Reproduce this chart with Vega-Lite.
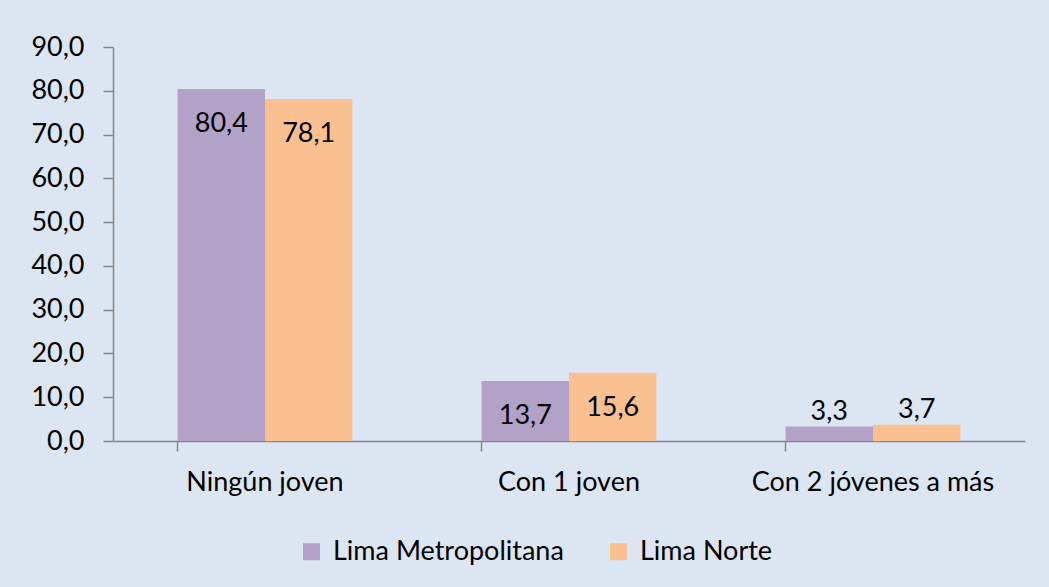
{
  "$schema": "https://vega.github.io/schema/vega-lite/v6.json",
  "width": 912,
  "height": 394,
  "padding": {"left": 30, "top": 33, "right": 24, "bottom": 28},
  "background": "#DCE6F2",
  "config": {
    "view": {"stroke": null},
    "font": "Lato",
    "locale": {"number": {"decimal": ",", "thousands": ".", "grouping": [3], "currency": ["", ""]}},
    "axis": {"labelFont": "Lato", "labelFontSize": 27, "labelColor": "#000000", "labelLimit": 0, "domainColor": "#868686", "tickColor": "#868686", "domainWidth": 1.5, "tickWidth": 1.5, "grid": false, "title": null},
    "legend": {"labelFont": "Lato", "labelFontSize": 27, "labelColor": "#000000", "labelLimit": 0}
  },
  "data": {
    "values": [
      {"categoria": "Ningún joven", "region": "Lima Metropolitana", "valor": 80.4},
      {"categoria": "Ningún joven", "region": "Lima Norte", "valor": 78.1},
      {"categoria": "Con 1 joven", "region": "Lima Metropolitana", "valor": 13.7},
      {"categoria": "Con 1 joven", "region": "Lima Norte", "valor": 15.6},
      {"categoria": "Con 2 jóvenes a más", "region": "Lima Metropolitana", "valor": 3.3},
      {"categoria": "Con 2 jóvenes a más", "region": "Lima Norte", "valor": 3.7}
    ]
  },
  "encoding": {
    "x": {
      "field": "categoria",
      "type": "nominal",
      "sort": ["Ningún joven", "Con 1 joven", "Con 2 jóvenes a más"],
      "scale": {"paddingInner": 0.425, "paddingOuter": 0.2125},
      "axis": {"labelAngle": 0, "tickSize": 10, "bandPosition": 0, "labelPadding": 18}
    },
    "xOffset": {"field": "region", "type": "nominal", "sort": ["Lima Metropolitana", "Lima Norte"]},
    "y": {
      "field": "valor",
      "type": "quantitative",
      "scale": {"domain": [0, 90], "nice": false},
      "axis": {"values": [0, 10, 20, 30, 40, 50, 60, 70, 80, 90], "format": ".1f", "tickSize": 10, "labelPadding": 19}
    }
  },
  "layer": [
    {
      "mark": {"type": "bar"},
      "encoding": {
        "color": {
          "field": "region",
          "type": "nominal",
          "scale": {"domain": ["Lima Metropolitana", "Lima Norte"], "range": ["#B3A2C7", "#FAC090"]},
          "legend": {
            "title": null,
            "orient": "none",
            "direction": "horizontal",
            "legendX": 185,
            "legendY": 491,
            "symbolType": "square",
            "symbolSize": 289,
            "symbolStrokeWidth": 0,
            "labelOffset": 8,
            "columnPadding": 41
          }
        }
      }
    },
    {
      "transform": [{"filter": "datum.valor >= 10"}],
      "mark": {"type": "text", "dy": 43, "baseline": "alphabetic", "fontSize": 27, "color": "#000000"},
      "encoding": {"text": {"field": "valor", "type": "quantitative", "format": ".1f"}}
    },
    {
      "transform": [{"filter": "datum.valor < 10"}],
      "mark": {"type": "text", "dy": -7, "baseline": "alphabetic", "fontSize": 27, "color": "#000000"},
      "encoding": {"text": {"field": "valor", "type": "quantitative", "format": ".1f"}}
    }
  ]
}
